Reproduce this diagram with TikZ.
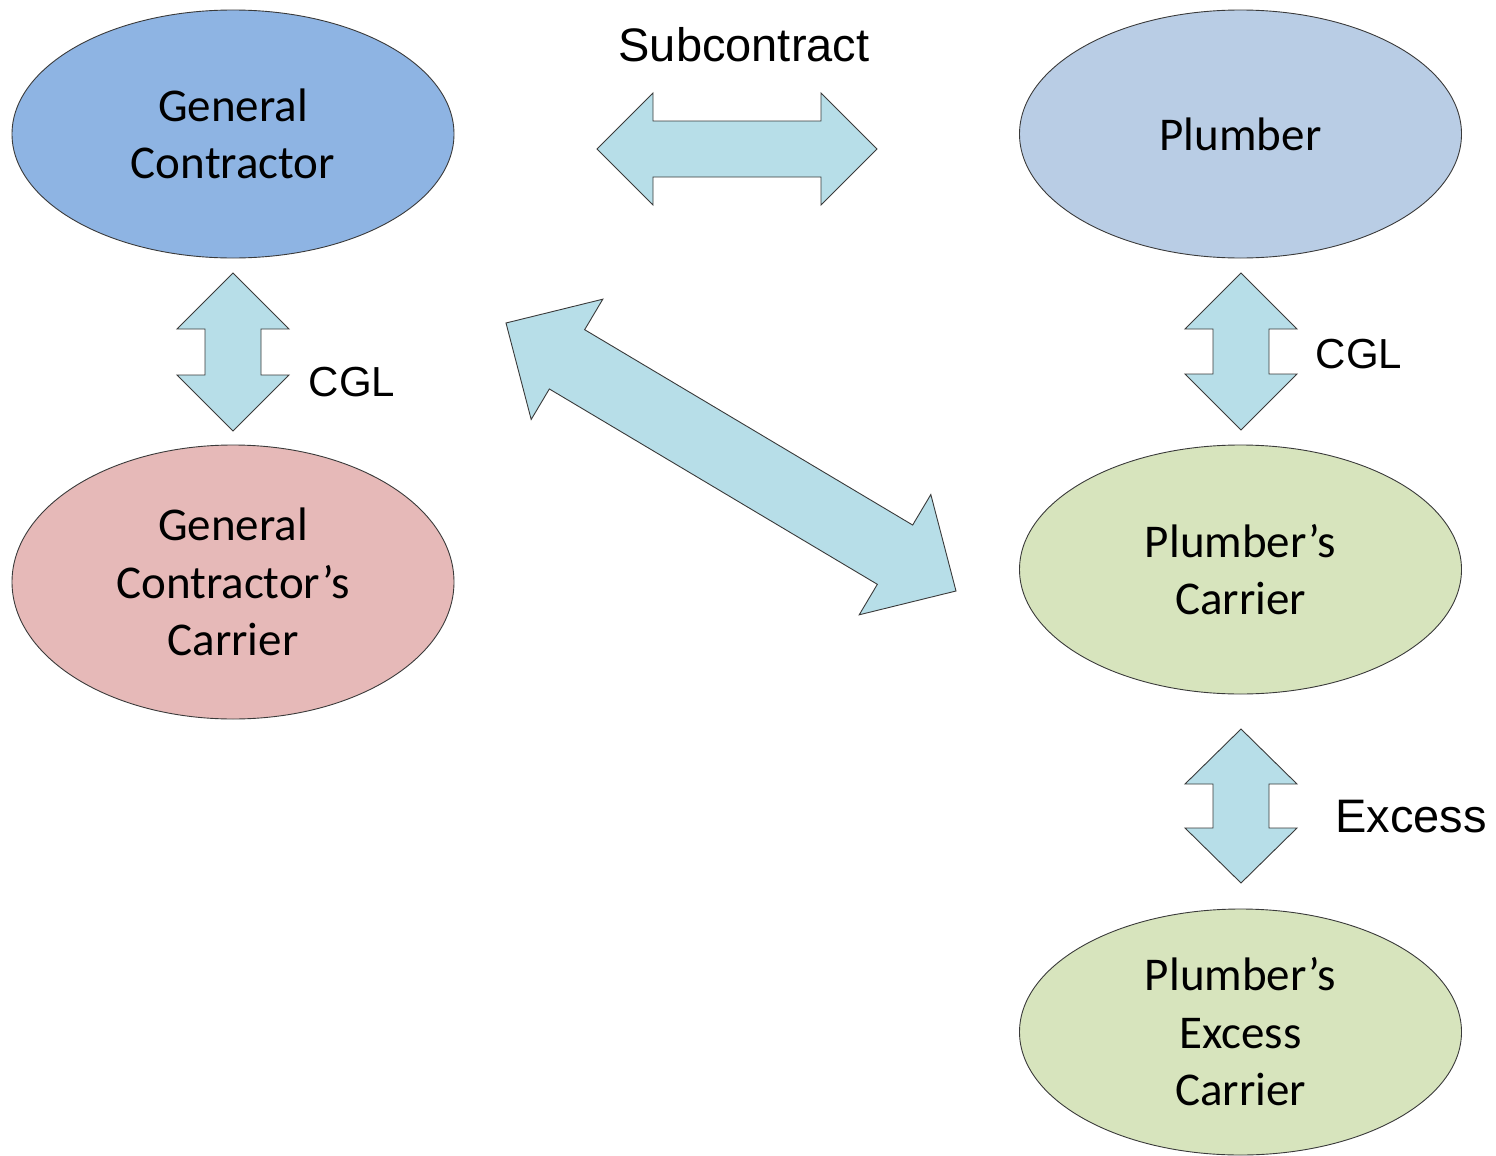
\documentclass[tikz,border=0pt]{standalone}
\usepackage{fontspec}
\setmainfont{Carlito}
\newfontfamily\arialf{Liberation Sans}
\usetikzlibrary{shapes.geometric,calc}
\definecolor{gcblue}{HTML}{8EB4E3}
\definecolor{plblue}{HTML}{B9CDE5}
\definecolor{gcpink}{HTML}{E6B9B8}
\definecolor{plgreen}{HTML}{D7E4BD}
\definecolor{arrfill}{HTML}{B7DEE8}
\definecolor{edge}{HTML}{3A3A3A}
\tikzset{
  party/.style={ellipse, draw=edge, line width=0.9pt, inner sep=0pt, align=center,
    minimum width=442pt, font=\fontsize{47pt}{57.5pt}\selectfont},
  blockarrow/.style={fill=arrfill, draw=edge, line width=0.9pt, line join=miter},
  lbl/.style={anchor=base, inner sep=0pt, font=\arialf\fontsize{47pt}{56pt}\selectfont},
  lblsmall/.style={anchor=base, inner sep=0pt, font=\arialf\fontsize{42pt}{50pt}\selectfont}
}
% #1 start, #2 end, #3 head length, #4 head half width, #5 shaft half width
\newcommand\blockarr[5]{%
  \coordinate (hA) at ($(#1)!#3!(#2)$);
  \coordinate (hB) at ($(#2)!#3!(#1)$);
  \draw[blockarrow] (#1)
    -- ($(hA)!#4!90:(#2)$) -- ($(hA)!#5!90:(#2)$)
    -- ($(hB)!#5!-90:(#1)$) -- ($(hB)!#4!-90:(#1)$)
    -- (#2)
    -- ($(hB)!#4!90:(#1)$) -- ($(hB)!#5!90:(#1)$)
    -- ($(hA)!#5!-90:(#2)$) -- ($(hA)!#4!-90:(#2)$)
    -- cycle;}
\begin{document}
\begin{tikzpicture}[x=1pt,y=-1pt]
\useasboundingbox (0,0) rectangle (1496,1156);
% parties
\node[party, fill=gcblue, minimum height=248pt] (gc) at (233,134) {General\\Contractor};
\node[party, fill=plblue, minimum height=248pt] (pl) at (1240.5,134) {Plumber};
\node[party, fill=gcpink, minimum height=274pt] (gcc) at (233,582) {General\\Contractor’s\\Carrier};
\node[party, fill=plgreen, minimum height=249pt] (plc) at (1240.5,569.5) {Plumber’s\\Carrier};
\node[party, fill=plgreen, minimum height=246pt] (ple) at (1240.5,1032) {Plumber’s\\Excess\\Carrier};
% arrow end points
\coordinate (subL) at (597,149);
\coordinate (subR) at (877,149);
\coordinate (cglLt) at (233,273);
\coordinate (cglLb) at (233,431);
\coordinate (cglRt) at (1241,273);
\coordinate (cglRb) at (1241,430);
\coordinate (excT) at (1241,729);
\coordinate (excB) at (1241,883);
\coordinate (diagA) at (506,323);
\coordinate (diagB) at (956,591);
% block arrows
\blockarr{subL}{subR}{56pt}{56pt}{28pt}
\blockarr{cglLt}{cglLb}{56pt}{56pt}{28pt}
\blockarr{cglRt}{cglRb}{56pt}{56pt}{28pt}
\blockarr{excT}{excB}{55pt}{56pt}{28pt}
\blockarr{diagA}{diagB}{71pt}{70pt}{34.5pt}
% labels
\node[lbl] (tsub) at (744,62) {Subcontract};
\node[lblsmall] (tcgl1) at (352,396) {CGL};
\node[lblsmall] (tcgl2) at (1359,368) {CGL};
\node[lbl] (texc) at (1411,832) {Excess};
\end{tikzpicture}
\end{document}
